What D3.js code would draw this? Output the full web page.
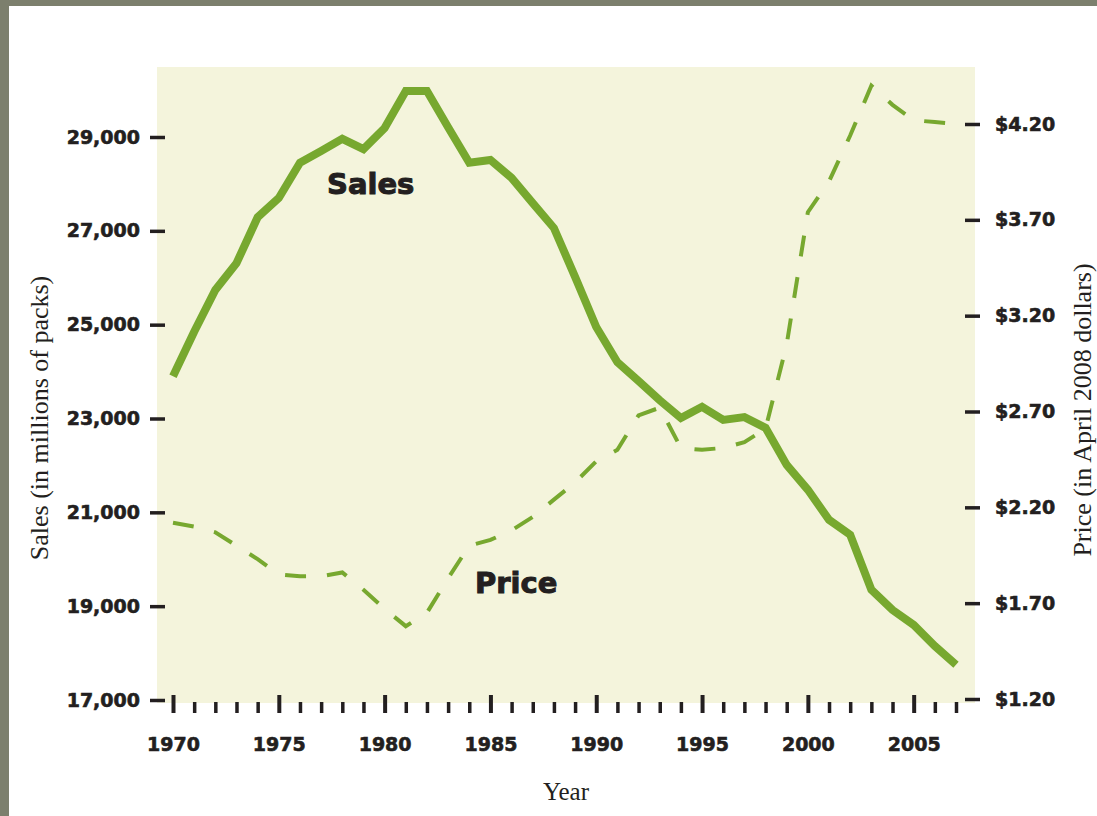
<!DOCTYPE html>
<html>
<head>
<meta charset="utf-8">
<script src="https://cdn.jsdelivr.net/npm/d3@7"></script>
<style>
  body { margin: 0; background: #7c7f6d; }
  svg { display: block; }
</style>
</head>
<body>
<svg id="chart"></svg>
<script>
// data
const years = [1970, 1971, 1972, 1973, 1974, 1975, 1976, 1977, 1978, 1979,
               1980, 1981, 1982, 1983, 1984, 1985, 1986, 1987, 1988, 1989,
               1990, 1991, 1992, 1993, 1994, 1995, 1996, 1997, 1998, 1999,
               2000, 2001, 2002, 2003, 2004, 2005, 2006, 2007]

// sales in millions of packs
const sales = [23900, 24850, 25740, 26310, 27290, 27700, 28450, 28700, 28960, 28740,
               29190, 29980, 29980, 29210, 28450, 28510, 28130, 27590, 27060, 26020,
               24950, 24200, 23800, 23390, 23010, 23250, 22970, 23030, 22800, 22010,
               21480, 20840, 20520, 19350, 18920, 18600, 18150, 17750]

// price in April 2008 dollars
const price = [2.12, 2.10, 2.07, 2.00, 1.93, 1.85, 1.84, 1.84, 1.86, 1.77,
               1.67, 1.58, 1.65, 1.83, 2.00, 2.03, 2.08, 2.15, 2.24, 2.33,
               2.44, 2.50, 2.68, 2.72, 2.51, 2.50, 2.51, 2.54, 2.61, 3.05,
               3.74, 3.90, 4.14, 4.40, 4.30, 4.22, 4.21, 4.20]

const salesTicks = [17000, 19000, 21000, 23000, 25000, 27000, 29000]
const priceTicks = [1.20, 1.70, 2.20, 2.70, 3.20, 3.70, 4.20]
const yearLabels = [1970, 1975, 1980, 1985, 1990, 1995, 2000, 2005]

const W = 1097, H = 816
const green = '#77a82f'
const ink = '#231f20'
const tickFont = '"DejaVu Sans", sans-serif'
const serif = '"Liberation Serif", "Times New Roman", serif'

const svg = d3.select('#chart')
    .attr('width', W)
    .attr('height', H)

// heavy black sans text, like the printed labels
function heavy(sel, size) {
    sel.attr('fill', ink)
        .attr('stroke', ink)
        .attr('stroke-width', 0.6)
        .attr('font-family', tickFont)
        .attr('font-weight', 'bold')
        .attr('font-size', size)
}

// white card on the grey frame
svg.append('rect')
    .attr('x', 9).attr('y', 6)
    .attr('width', W - 9).attr('height', H - 6)
    .attr('fill', '#ffffff')

// cream plot area
svg.append('rect')
    .attr('x', 157).attr('y', 67)
    .attr('width', 975 - 157).attr('height', 703 - 67)
    .attr('fill', '#f4f4dc')

const x = d3.scaleLinear()
    .domain([1970, 2007])
    .range([173, 956])

const ySales = d3.scaleLinear()
    .domain([17000, 29000])
    .range([700, 137])

const yPrice = d3.scaleLinear()
    .domain([1.20, 4.20])
    .range([699, 124])

// left axis
const left = svg.append('g')
    .attr('transform', 'translate(165,0)')
    .call(d3.axisLeft(ySales)
        .tickValues(salesTicks)
        .tickSize(15)
        .tickPadding(10)
        .tickFormat(d3.format(',')))
left.select('.domain').remove()
left.selectAll('line').attr('stroke', ink).attr('stroke-width', 3.5)
left.selectAll('text').call(heavy, 19)

// right axis
const right = svg.append('g')
    .attr('transform', 'translate(965,0)')
    .call(d3.axisRight(yPrice)
        .tickValues(priceTicks)
        .tickSize(15)
        .tickPadding(15)
        .tickFormat(d => '$' + d.toFixed(2)))
right.select('.domain').remove()
right.selectAll('line').attr('stroke', ink).attr('stroke-width', 3.5)
right.selectAll('text').call(heavy, 19)

// minor year ticks
const minor = svg.append('g')
    .attr('transform', 'translate(0,702)')
    .call(d3.axisBottom(x)
        .tickValues(years.filter(d => d % 5 !== 0))
        .tickSize(11)
        .tickFormat(''))
minor.select('.domain').remove()
minor.selectAll('line').attr('stroke', ink).attr('stroke-width', 3.5)

// major year ticks with labels
const major = svg.append('g')
    .attr('transform', 'translate(0,695)')
    .call(d3.axisBottom(x)
        .tickValues(yearLabels)
        .tickSize(18)
        .tickPadding(25)
        .tickFormat(d3.format('d')))
major.select('.domain').remove()
major.selectAll('line').attr('stroke', ink).attr('stroke-width', 4)
major.selectAll('text').call(heavy, 19)

// lines
svg.append('path')
    .datum(price)
    .attr('fill', 'none')
    .attr('stroke', green)
    .attr('stroke-width', 4)
    .attr('stroke-dasharray', '21,21')
    .attr('d', d3.line()
        .x((d, i) => x(years[i]))
        .y(d => yPrice(d)))

svg.append('path')
    .datum(sales)
    .attr('fill', 'none')
    .attr('stroke', green)
    .attr('stroke-width', 8)
    .attr('stroke-linejoin', 'miter')
    .attr('d', d3.line()
        .x((d, i) => x(years[i]))
        .y(d => ySales(d)))

// series labels
svg.append('text')
    .attr('x', 327).attr('y', 194)
    .call(heavy, 29)
    .attr('stroke-width', 1)
    .text('Sales')

svg.append('text')
    .attr('x', 475).attr('y', 593)
    .call(heavy, 29)
    .attr('stroke-width', 1)
    .text('Price')

// axis titles
svg.append('text')
    .attr('x', 566).attr('y', 800)
    .attr('text-anchor', 'middle')
    .attr('fill', ink)
    .attr('font-family', serif)
    .attr('font-size', 25)
    .text('Year')

svg.append('text')
    .attr('transform', 'translate(48,418) rotate(-90)')
    .attr('text-anchor', 'middle')
    .attr('fill', ink)
    .attr('font-family', serif)
    .attr('font-size', 26)
    .text('Sales (in millions of packs)')

svg.append('text')
    .attr('transform', 'translate(1091,410) rotate(-90)')
    .attr('text-anchor', 'middle')
    .attr('fill', ink)
    .attr('font-family', serif)
    .attr('font-size', 26)
    .text('Price (in April 2008 dollars)')
</script>
</body>
</html>
